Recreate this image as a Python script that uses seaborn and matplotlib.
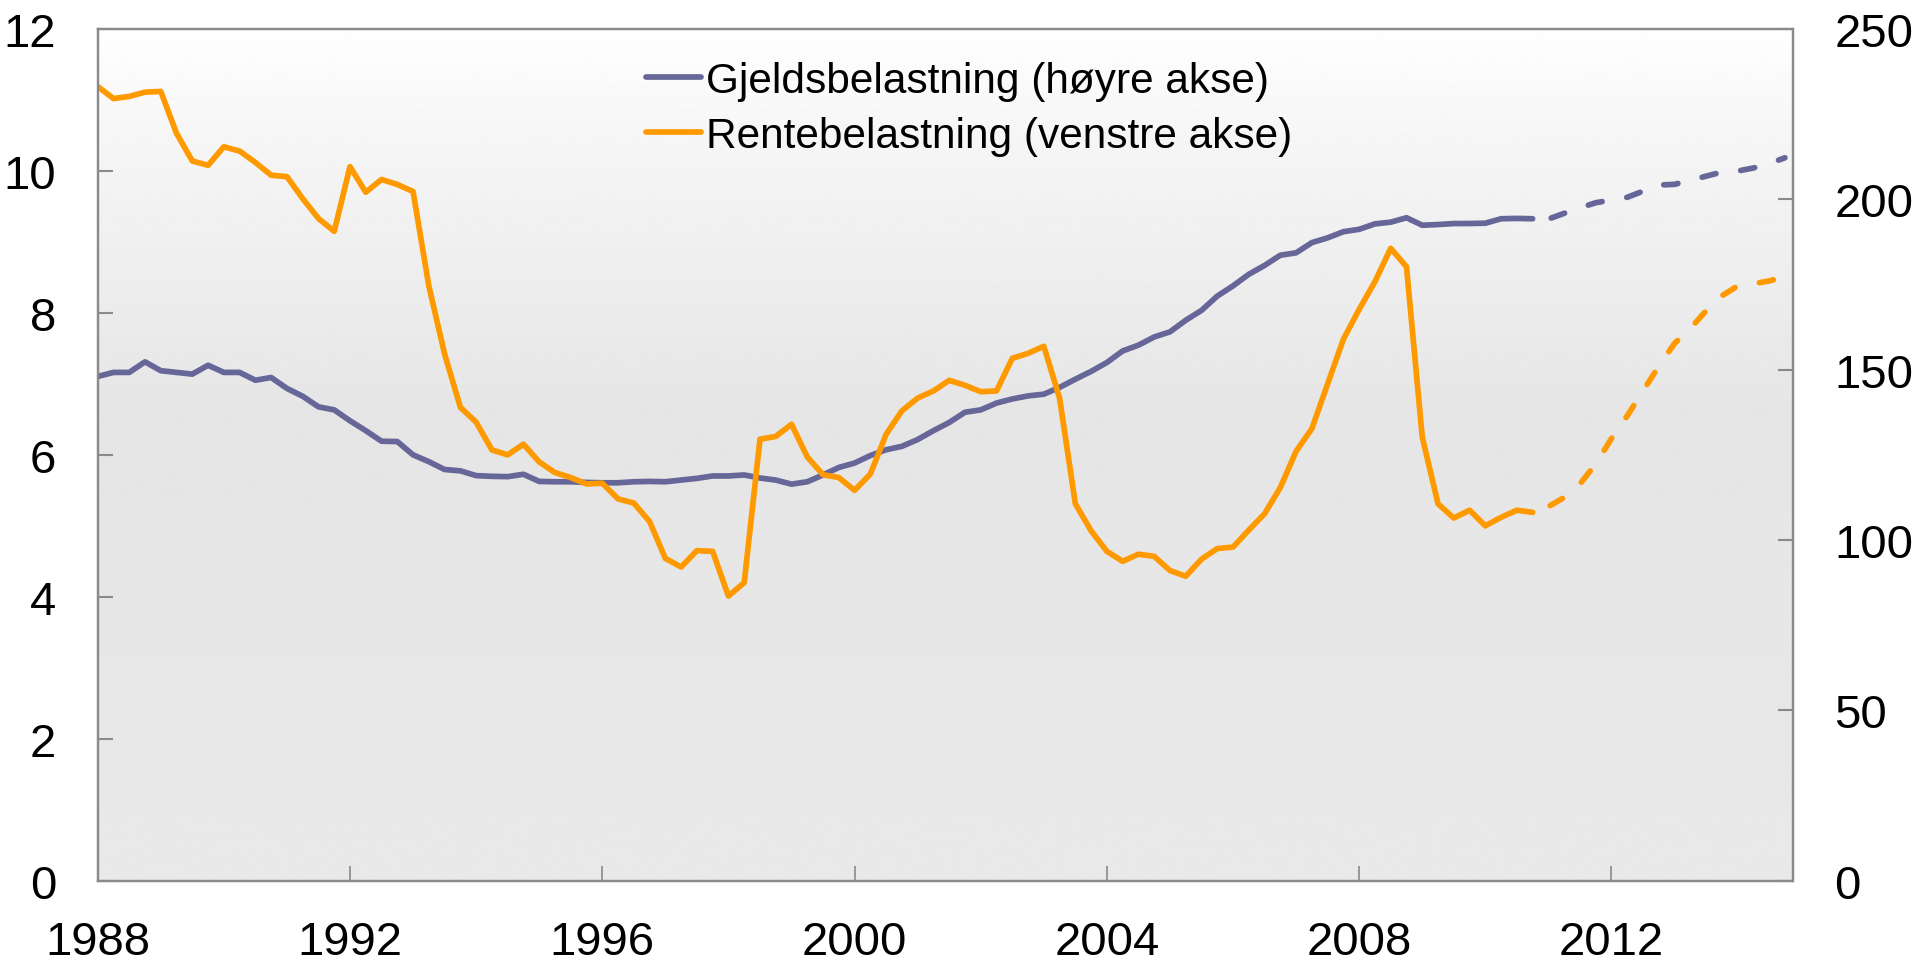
import numpy as np
import pandas as pd
import matplotlib
matplotlib.use("Agg")
import matplotlib.pyplot as plt
from matplotlib.lines import Line2D
import seaborn as sns

# ---------------- data (quarterly, 1988Q1 - 2014Q4) ----------------
start_year = 1988
n_quarters = 108
last_actual_index = 91  # 2010Q4: last observed quarter, projections after it

rentebelastning = [  # left axis (percent)
    11.19, 11.02, 11.05, 11.11,
    11.12, 10.53, 10.14, 10.08,
    10.34, 10.28, 10.12, 9.94,
    9.92, 9.61, 9.33, 9.15,
    10.06, 9.70, 9.88, 9.81,
    9.71, 8.38, 7.42, 6.67,
    6.46, 6.07, 6.00, 6.15,
    5.90, 5.75, 5.68, 5.59,
    5.60, 5.38, 5.32, 5.06,
    4.54, 4.42, 4.65, 4.64,
    4.01, 4.20, 6.22, 6.26,
    6.43, 5.97, 5.72, 5.68,
    5.50, 5.73, 6.29, 6.62,
    6.80, 6.90, 7.05, 6.98,
    6.89, 6.90, 7.36, 7.43,
    7.53, 6.80, 5.31, 4.93,
    4.64, 4.50, 4.60, 4.57,
    4.37, 4.29, 4.53, 4.68,
    4.70, 4.94, 5.17, 5.54,
    6.05, 6.37, 7.00, 7.63,
    8.05, 8.44, 8.91, 8.65,
    6.25, 5.31, 5.11, 5.22,
    5.00, 5.12, 5.22, 5.19,
    5.27, 5.40, 5.59, 5.87,
    6.23, 6.55, 6.90, 7.25,
    7.57, 7.78, 8.03, 8.24,
    8.38, 8.41, 8.45, 8.51,
]

gjeldsbelastning = [  # right axis (percent)
    148.0, 149.2, 149.2, 152.3,
    149.7, 149.2, 148.7, 151.3,
    149.2, 149.2, 146.9, 147.7,
    144.5, 142.2, 139.1, 138.2,
    135.0, 132.1, 129.0, 128.9,
    125.0, 123.0, 120.7, 120.3,
    118.9, 118.7, 118.6, 119.3,
    117.2, 117.1, 117.1, 116.9,
    116.8, 116.8, 117.1, 117.2,
    117.1, 117.6, 118.1, 118.8,
    118.8, 119.1, 118.2, 117.6,
    116.4, 117.1, 119.1, 121.3,
    122.6, 124.8, 126.5, 127.5,
    129.5, 132.1, 134.5, 137.5,
    138.2, 140.2, 141.4, 142.3,
    142.8, 144.8, 147.2, 149.5,
    152.1, 155.5, 157.2, 159.6,
    161.1, 164.5, 167.4, 171.6,
    174.6, 178.0, 180.6, 183.6,
    184.3, 187.3, 188.7, 190.5,
    191.2, 192.8, 193.3, 194.6,
    192.4, 192.6, 192.9, 192.9,
    193.0, 194.3, 194.4, 194.3,
    194.2, 195.9, 197.5, 199.0,
    199.8, 200.6, 202.4, 204.2,
    204.4, 205.6, 206.8, 208.0,
    208.3, 209.2, 210.5, 212.2,
]

x_ticks = [1988, 1992, 1996, 2000, 2004, 2008, 2012]
left_ticks = [0, 2, 4, 6, 8, 10, 12]
right_ticks = [0, 50, 100, 150, 200, 250]
label_gjeld = "Gjeldsbelastning (høyre akse)"
label_rente = "Rentebelastning (venstre akse)"

# ---------------- build frame ----------------
quarter_idx = np.arange(n_quarters)
df = pd.DataFrame({
    "t": start_year + quarter_idx / 4.0,
    "rente": rentebelastning,
    "gjeld": gjeldsbelastning,
})
actual = df.iloc[: last_actual_index + 1]
proj = df.iloc[last_actual_index:]

# ---------------- style ----------------
sns.set_style("ticks")
plt.rcParams["font.family"] = ["Liberation Sans", "DejaVu Sans"]
plt.rcParams["text.color"] = "black"

ORANGE = "#FF9900"
PURPLE = "#666699"
GRAY = "#8a8a8a"
LW = 4.1
DASH = (3.6, (2.5, 4.4))

fig = plt.figure(figsize=(19.2, 9.62), dpi=100)
rect = [97.7 / 1920, 1 - 881.7 / 962, (1792.5 - 97.7) / 1920, (881.7 - 30) / 962]

# gradient background
bg = fig.add_axes(rect, zorder=0)
pos = np.linspace(0, 1, 400)
shade = np.interp(pos, [0.0, 0.12, 0.45, 1.0], [0.998, 0.965, 0.900, 0.912])
bg.imshow(shade[:, None], aspect="auto", cmap="gray", vmin=0, vmax=1,
          extent=[0, 1, 0, 1], interpolation="bilinear")
bg.set_xlim(0, 1)
bg.set_ylim(0, 1)
bg.axis("off")

ax = fig.add_axes(rect, zorder=2)
ax.patch.set_visible(False)
ax2 = ax.twinx()
ax2.set_zorder(1)
ax2.patch.set_visible(False)

# blue (right axis)
sns.lineplot(data=actual, x="t", y="gjeld", ax=ax2, color=PURPLE, linewidth=LW,
             estimator=None, sort=False, solid_capstyle="round",
             solid_joinstyle="round")
sns.lineplot(data=proj, x="t", y="gjeld", ax=ax2, color=PURPLE, linewidth=LW,
             estimator=None, sort=False, linestyle=DASH,
             dash_capstyle="round", dash_joinstyle="round")
# orange (left axis)
sns.lineplot(data=actual, x="t", y="rente", ax=ax, color=ORANGE, linewidth=LW,
             estimator=None, sort=False, solid_capstyle="round",
             solid_joinstyle="round")
sns.lineplot(data=proj, x="t", y="rente", ax=ax, color=ORANGE, linewidth=LW,
             estimator=None, sort=False, linestyle=DASH,
             dash_capstyle="round", dash_joinstyle="round")
for line in ax.get_lines() + ax2.get_lines():
    line.set_linewidth(LW)
for line in ax.get_lines()[1:2] + ax2.get_lines()[1:2]:
    line.set_linestyle(DASH)
    line.set_dash_capstyle("round")

x_right = start_year + 26.87
ax.set_xlim(start_year, x_right)
ax.set_ylim(0, 12)
ax2.set_ylim(0, 250)
ax.set_xticks(x_ticks)
ax.set_xticklabels([str(v) for v in x_ticks])
ax.set_yticks(left_ticks)
ax.set_yticklabels([str(v) for v in left_ticks])
ax2.set_yticks(right_ticks)
ax2.set_yticklabels([str(v) for v in right_ticks])
ax.set_xlabel("")
ax.set_ylabel("")
ax2.set_ylabel("")

FS = 34
ax.tick_params(axis="y", direction="in", length=11, width=1.5, color=GRAY,
               labelsize=FS, pad=30, labelcolor="black")
ax.tick_params(axis="x", direction="in", length=11, width=1.2, color=GRAY,
               labelsize=FS, pad=28, labelcolor="black")
ax2.tick_params(axis="y", direction="in", length=11, width=1.5, color=GRAY,
                labelsize=FS, pad=30, labelcolor="black")

for a in (ax, ax2):
    for s in a.spines.values():
        s.set_color(GRAY)
        s.set_linewidth(1.6)
        s.set_visible(True)

# legend
handles = [Line2D([], [], color=PURPLE, lw=LW, solid_capstyle="round"),
           Line2D([], [], color=ORANGE, lw=LW, solid_capstyle="round")]
ax.legend(handles, [label_gjeld, label_rente], loc="upper left",
          bbox_to_anchor=(646 / 1920, 1 - 62 / 962), bbox_transform=fig.transFigure,
          frameon=False, fontsize=30.5, handlelength=1.3, handletextpad=0.12,
          labelspacing=0.35, borderpad=0, borderaxespad=0, labelcolor="black")

fig.savefig("out.png", dpi=100)
